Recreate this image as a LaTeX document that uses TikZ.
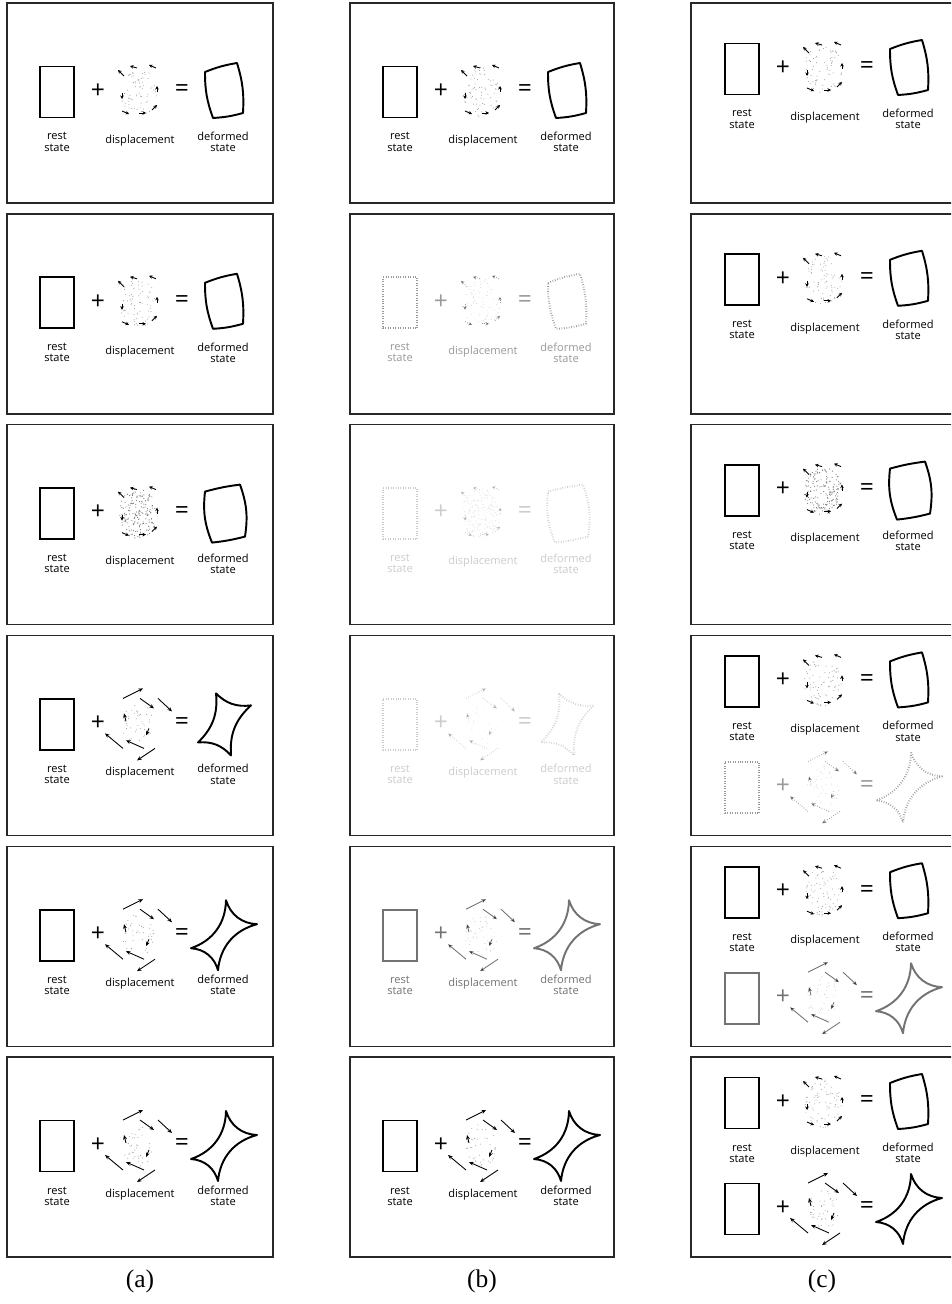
\documentclass[tikz,border=0pt]{standalone}
\usepackage{fontspec}
\setmainfont{Liberation Serif}
\setsansfont{Open Sans}
\usetikzlibrary{positioning}
\usetikzlibrary{arrows.meta}
\usetikzlibrary{calc}
\definecolor{figMarco}{RGB}{40,40,40}
\definecolor{figPunto}{RGB}{150,150,150}
\definecolor{figPuntoOsc}{RGB}{110,110,110}
\tikzset{
  marco/.style={draw=figMarco, line width=0.8pt},
  reposo/.style={
    rectangle, draw, line width=1.1pt, minimum width=0.68cm,
    minimum height=1.02cm, inner sep=0pt
  },
  signo/.style={font=\sffamily\fontsize{14}{14}\selectfont, inner sep=0pt},
  etiqueta/.style={
    font=\sffamily\fontsize{6.3}{6.3}\selectfont, align=center, inner sep=0.5pt
  },
  forma/.style={line width=1.1pt, line join=round},
  flechita/.style={-{Stealth[length=2pt,width=2pt]}, line width=0.5pt},
  flechota/.style={-{Stealth[length=2.6pt,width=2.2pt]}, line width=0.5pt},
  punto/.style={fill=figPunto},
  puntoosc/.style={fill=figPuntoOsc},
  pleno/.style={},
  gris/.style={opacity=0.55},
  claro/.style={opacity=0.4, densely dotted},
  tenue/.style={opacity=0.2, densely dotted},
  rotulo/.style={font=\fontsize{14.5}{15}\selectfont, inner sep=0pt}
}

\newcommand\campogiro{%
  \foreach \k in {1,...,70}{
    \pgfmathsetmacro\ang{360*rnd}\pgfmathsetmacro\rad{sqrt(rnd)}
    \fill[punto] ({19*\rad*cos(\ang)},{25*\rad*sin(\ang)}) circle (0.5);}
  \foreach \a/\b in {{-14,16}/{-20,22},{-1,24}/{-8,26},{18,24}/{11,27},{19,0}/{19,6},
    {-16,-1}/{-16,-7},{-16,-19}/{-9,-22},{1,-21}/{8,-21},{14,-18}/{19,-13}}
    \draw[flechita] (\a) -- (\b);}
\newcommand\campogirob{%
  \foreach \k in {1,...,170}{
    \pgfmathsetmacro\ang{360*rnd}\pgfmathsetmacro\rad{sqrt(rnd)}
    \fill[puntoosc] ({19*\rad*cos(\ang)},{25*\rad*sin(\ang)}) circle (0.55);}
  \foreach \a/\b in {{-14,16}/{-20,22},{-1,24}/{-8,26},{18,24}/{11,27},{19,0}/{19,6},
    {-16,-1}/{-16,-7},{-16,-19}/{-9,-22},{1,-21}/{8,-21},{14,-18}/{19,-13}}
    \draw[flechita] (\a) -- (\b);}
\newcommand\campoestrella{%
  \foreach \k in {1,...,40}{
    \pgfmathsetmacro\ang{360*rnd}\pgfmathsetmacro\rad{sqrt(rnd)}
    \fill[punto] ({16*\rad*cos(\ang)},{22*\rad*sin(\ang)}) circle (0.5);}
  \foreach \a/\b in {{-15,26}/{5,36},{2,26}/{16,16},{20,26}/{34,13},{17,-24}/{-1,-36},
    {6,-24}/{-12,-16},{-15,-24}/{-33,-9},{-12,3}/{-14,11},{11,-4}/{8,-11}}
    \draw[flechota] (\a) -- (\b);}
\let\campoestrellab\campoestrella

\newcommand\formagiro{%
  \draw[forma] (-19,20) to[bend left=6] (13,29) to[bend left=10] (19,-21)
    to[bend left=6] (-11,-26) to[bend left=10] (-19,20) -- cycle;}
\newcommand\formagirob{%
  \draw[forma] (-19,22) to[bend left=4] (16,29) to[bend left=14] (21,-23)
    to[bend left=4] (-12,-29) to[bend left=14] (-19,22) -- cycle;}
\newcommand\formaestrellab{%
  \draw[forma] (-8,31) to[bend right=26] (27,19) to[bend right=26] (7,-31)
    to[bend right=26] (-26,-18) to[bend right=26] (-8,31) -- cycle;}
\newcommand\formaestrella{%
  \draw[forma] (2,35) to[bend right=35] (33,11) to[bend right=35] (-6,-35)
    to[bend right=35] (-33,-13) to[bend right=35] (2,35) -- cycle;}

\newcommand\rotulos[1]{%
  \node[etiqueta, below=0.26cm of #1r] (#1a) {rest\\state};
  \node[etiqueta] (#1b) at ($(#1a)+(83,1.5)$) {displacement};
  \node[etiqueta] (#1d) at ($(#1a)+(166,0)$) {deformed\\state};}
\newcommand\sinrotulos[1]{}

\newcommand\ecuacion[5]{%
  \begin{scope}[shift={#2}, #3]
    \node[reposo] (#1r) at (0,0) {};
    \node[signo] (#1m) at (41,1) {+};
    \node[signo] (#1i) at (125,1) {=};
    \coordinate (#1c) at (81,0);
    \coordinate (#1f) at (167,0);
    \begin{scope}[shift={(#1c)}]\csname campo#4\endcsname\end{scope}
    \begin{scope}[shift={(#1f)}]\csname forma#4\endcsname\end{scope}
    #5{#1}
  \end{scope}}

\begin{document}
\begin{tikzpicture}[x=0.02cm, y=0.02cm]
  \useasboundingbox (0,0) rectangle (951,-1304);
  \clip (0,0) rectangle (951,-1304);
  \pgfmathsetseed{11}
  \foreach \fila/\tipo in {1/giro,2/giro,3/girob,4/estrellab,5/estrella,6/estrella}{
    \pgfmathsetmacro\arriba{3+210.8*(\fila-1)}
    \draw[marco] (7,-\arriba) rectangle ++(266,-200);
    \ecuacion{a\fila}{(57,-\arriba-89)}{pleno}{\tipo}{\rotulos}
  }
  \foreach \fila/\tipo/\tono in {1/giro/pleno,2/giro/claro,3/girob/tenue,4/estrellab/tenue,
    5/estrella/gris,6/estrella/pleno}{
    \pgfmathsetmacro\arriba{3+210.8*(\fila-1)}
    \draw[marco] (350,-\arriba) rectangle ++(264,-200);
    \ecuacion{b\fila}{(400,-\arriba-89)}{\tono}{\tipo}{\rotulos}
  }
  \foreach \fila/\tipo in {1/giro,2/giro,3/girob}{
    \pgfmathsetmacro\arriba{3+210.8*(\fila-1)}
    \draw[marco] (691,-\arriba) rectangle ++(264,-200);
    \ecuacion{c\fila}{(742,-\arriba-66)}{pleno}{\tipo}{\rotulos}
  }
  \foreach \fila/\tono in {4/claro,5/gris,6/pleno}{
    \pgfmathsetmacro\arriba{3+210.8*(\fila-1)}
    \draw[marco] (691,-\arriba) rectangle ++(264,-200);
    \ecuacion{c\fila}{(742,-\arriba-46)}{pleno}{giro}{\rotulos}
    \ecuacion{c\fila s}{(742,-\arriba-152)}{\tono}{estrella}{\sinrotulos}
  }
  \node[rotulo] (ra) at (140,-1281) {(a)};
  \node[rotulo] (rb) at (482,-1281) {(b)};
  \node[rotulo] (rc) at (822,-1281) {(c)};
\end{tikzpicture}
\end{document}
